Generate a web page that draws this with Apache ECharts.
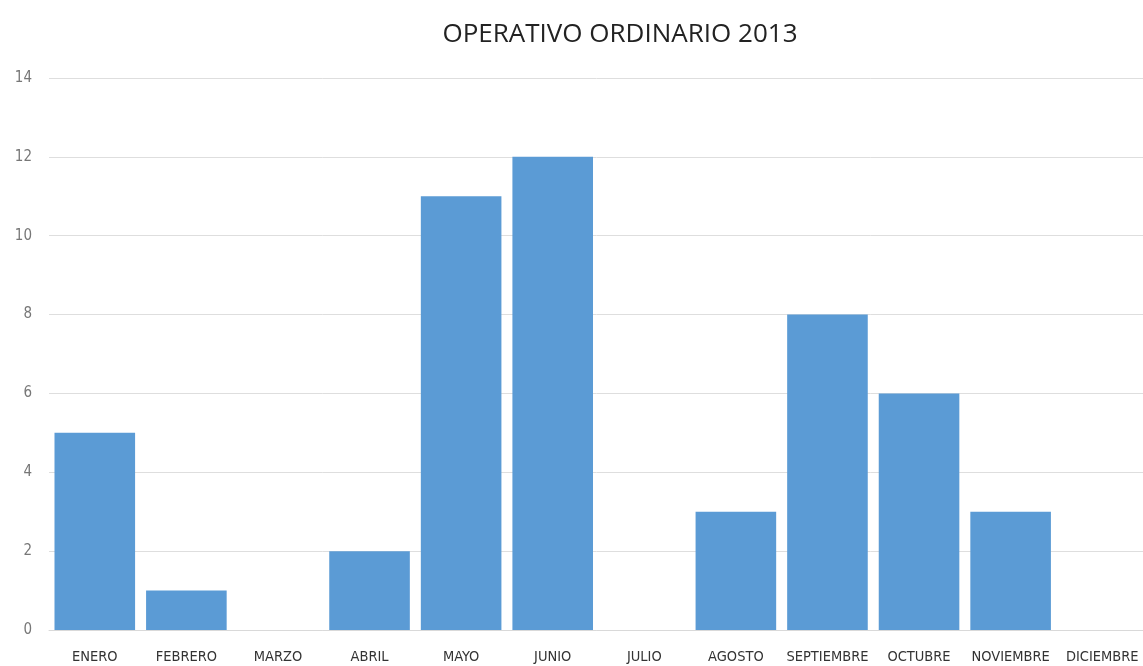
<!DOCTYPE html>
<html><head><meta charset="utf-8">
<script src="https://cdn.jsdelivr.net/npm/echarts@6/dist/echarts.min.js"></script>
<style>html,body{margin:0;padding:0;background:#fff}#c{width:1143px;height:666px}</style>
</head><body><div id="c"></div>
<script>
const categories = ['ENERO','FEBRERO','MARZO','ABRIL','MAYO','JUNIO','JULIO','AGOSTO','SEPTIEMBRE','OCTUBRE','NOVIEMBRE','DICIEMBRE'];
const values = [5,1,0,2,11,12,0,3,8,6,3,0];
const chart = echarts.init(document.getElementById('c'));
chart.setOption({
  animation:false,
  backgroundColor:'#fff',
  title:{text:'OPERATIVO ORDINARIO 2013',left:615,top:17,textAlign:'center',
    textStyle:{fontFamily:'Open Sans',fontWeight:'normal',fontSize:26,color:'#222'}},
  grid:{left:49,width:1099,top:78,bottom:36,outerBoundsMode:'none',containLabel:false},
  xAxis:{type:'category',data:categories,
    axisLine:{show:true,lineStyle:{color:'#d9d9d9'}},axisTick:{show:false},
    axisLabel:{interval:0,margin:20,fontFamily:'"DejaVu Sans Condensed", "Open Sans", sans-serif',fontSize:14.5,color:'#333'}},
  yAxis:{type:'value',min:0,max:14,interval:2,
    axisLine:{show:false},axisTick:{show:false},
    splitLine:{lineStyle:{color:'#dedede'}},
    axisLabel:{margin:17,fontFamily:'"DejaVu Sans Condensed", "Open Sans", sans-serif',fontSize:15,color:'#777'}},
  series:[{type:'bar',data:values,barCategoryGap:'12%',
    itemStyle:{color:'#5B9BD5'}}]
});
</script></body></html>
